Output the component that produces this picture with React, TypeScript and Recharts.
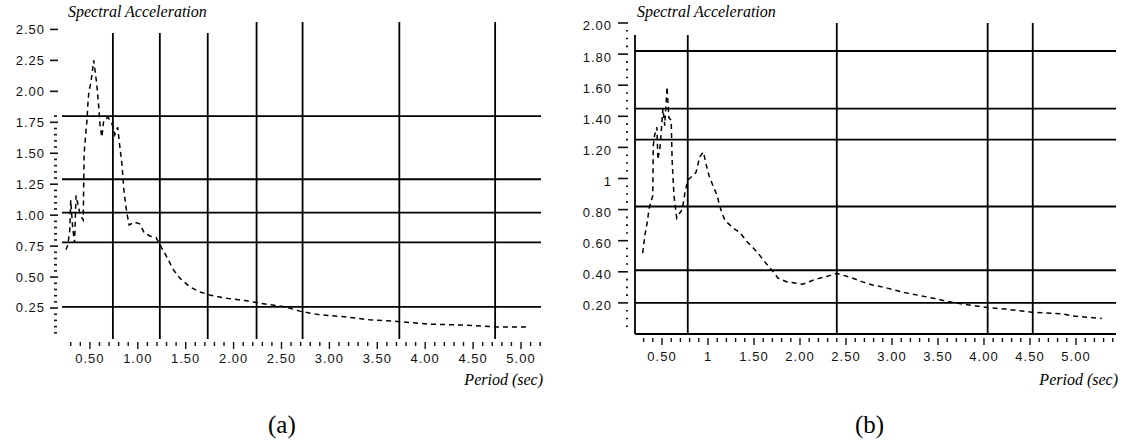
import React from 'react';
import { LineChart, Line, XAxis, YAxis, ReferenceLine } from 'recharts';

// panel (a): period (sec) vs spectral acceleration
const periodA = [0.25, 0.27, 0.29, 0.3, 0.32, 0.34, 0.355, 0.4, 0.43, 0.44, 0.46, 0.47, 0.48, 0.49, 0.51, 0.54, 0.57, 0.595, 0.605, 0.625, 0.645, 0.69, 0.73, 0.76, 0.79, 0.81, 0.835, 0.855, 0.885, 0.91, 0.96, 1.02, 1.065, 1.13, 1.19, 1.25, 1.305, 1.37, 1.44, 1.545, 1.65, 1.75, 1.91, 2.12, 2.35, 2.54, 2.69, 2.9, 3.16, 3.42, 3.74, 4.05, 4.39, 4.75, 5.06];
const accelA = [0.72, 0.76, 0.88, 1.12, 0.9, 0.78, 1.16, 1.0, 0.96, 1.5, 1.69, 1.77, 1.91, 2.0, 2.07, 2.25, 2.07, 1.85, 1.73, 1.63, 1.77, 1.79, 1.74, 1.65, 1.71, 1.57, 1.41, 1.2, 1.02, 0.92, 0.945, 0.93, 0.86, 0.83, 0.82, 0.735, 0.66, 0.56, 0.49, 0.42, 0.38, 0.355, 0.33, 0.31, 0.28, 0.26, 0.225, 0.195, 0.18, 0.155, 0.14, 0.12, 0.113, 0.097, 0.097];

// panel (b)
const periodB = [0.29, 0.315, 0.34, 0.36, 0.38, 0.4, 0.405, 0.42, 0.445, 0.455, 0.48, 0.51, 0.53, 0.555, 0.575, 0.6, 0.61, 0.63, 0.66, 0.695, 0.72, 0.75, 0.78, 0.8, 0.87, 0.91, 0.95, 0.98, 1.01, 1.05, 1.1, 1.12, 1.15, 1.185, 1.24, 1.29, 1.35, 1.43, 1.53, 1.65, 1.71, 1.76, 1.86, 2.03, 2.16, 2.29, 2.4, 2.57, 2.68, 2.79, 2.95, 3.11, 3.28, 3.45, 3.6, 3.79, 4.04, 4.23, 4.52, 4.85, 4.97, 5.28];
const accelB = [0.52, 0.64, 0.72, 0.81, 0.85, 0.89, 1.21, 1.28, 1.33, 1.12, 1.21, 1.45, 1.34, 1.59, 1.39, 1.375, 1.12, 0.89, 0.745, 0.78, 0.8, 0.91, 0.99, 1.0, 1.04, 1.14, 1.17, 1.09, 1.02, 0.96, 0.89, 0.84, 0.78, 0.73, 0.7, 0.675, 0.65, 0.59, 0.53, 0.44, 0.4, 0.36, 0.335, 0.32, 0.35, 0.37, 0.39, 0.36, 0.335, 0.315, 0.295, 0.27, 0.25, 0.23, 0.21, 0.19, 0.17, 0.16, 0.14, 0.13, 0.115, 0.1];

// tick labels
const xTicks = [0.5, 1, 1.5, 2, 2.5, 3, 3.5, 4, 4.5, 5];
const xLabelsA = ['0.50', '1.00', '1.50', '2.00', '2.50', '3.00', '3.50', '4.00', '4.50', '5.00'];
const xLabelsB = ['0.50', '1', '1.50', '2.00', '2.50', '3.00', '3.50', '4.00', '4.50', '5.00'];
const yTicksA = [0.25, 0.5, 0.75, 1, 1.25, 1.5, 1.75, 2, 2.25, 2.5];
const yLabelsA = ['0.25', '0.50', '0.75', '1.00', '1.25', '1.50', '1.75', '2.00', '2.25', '2.50'];
const yTicksB = [0.2, 0.4, 0.6, 0.8, 1, 1.2, 1.4, 1.6, 1.8, 2];
const yLabelsB = ['0.20', '0.40', '0.60', '0.80', '1', '1.20', '1.40', '1.60', '1.80', '2.00'];

// overlaid grid lines
const gridXA = [0.74, 1.23, 1.73, 2.24, 2.72, 3.73, 4.73];
const gridYA = [1.8, 1.29, 1.02, 0.78, 0.26];
const gridXB = [0.78, 2.4, 4.04, 4.53];
const gridYB = [1.82, 1.45, 1.25, 0.82, 0.41, 0.2];

const INK = '#111';
const TICK_FONT = '"Liberation Sans", Arial, sans-serif';
const SERIF = '"Liberation Serif", "Times New Roman", serif';

const key = (v: number) => Number(v).toFixed(2);

function steps(from: number, count: number, step: number) {
  return Array.from({ length: count }, (_, i) => Math.round((from + i * step) * 100) / 100);
}

function mergeTicks(major: number[], minor: number[]) {
  const m = new Set(major.map(key));
  return [...major, ...minor.filter((v) => !m.has(key(v)))].sort((a, b) => a - b);
}

const makeXTick = (labels: Map<string, string>, gap: number, labelY: number) => (props: any) => {
  const { x, y, payload } = props;
  const label = labels.get(key(payload.value));
  return (
    <g>
      <line x1={x} x2={x} y1={y + gap} y2={y + gap + (label ? 7 : 4)} stroke={INK} strokeWidth={1.4} />
      {label && (
        <text x={x} y={y + labelY} textAnchor="middle" fontSize={13} letterSpacing={1} fontFamily={TICK_FONT} fill={INK}>
          {label}
        </text>
      )}
    </g>
  );
};

const makeYTick = (labels: Map<string, string>, o: { labelX: number; dy: number; major: [number, number]; minor: [number, number] }) => (props: any) => {
  const { x, y, payload } = props;
  const label = labels.get(key(payload.value));
  const [a, b] = label ? o.major : o.minor;
  return (
    <g>
      <line x1={x - a} x2={x - b} y1={y} y2={y} stroke={INK} strokeWidth={1.6} />
      {label && (
        <text x={x - o.labelX} y={y + o.dy} textAnchor="end" dominantBaseline="middle" fontSize={13} letterSpacing={1} fontFamily={TICK_FONT} fill={INK}>
          {label}
        </text>
      )}
    </g>
  );
};

type PanelProps = {
  left: number;
  width: number;
  period: number[];
  accel: number[];
  xDomain: [number, number];
  yDomain: [number, number];
  xLabels: string[];
  yTicks: number[];
  yLabels: string[];
  minorX: number[];
  minorY: number[];
  gridX: number[];
  gridY: number[];
  margin: { top: number; right: number; bottom: number; left: number };
  yWidth: number;
  xHeight: number;
  showAxes: boolean;
  xTickGap: number;
  xLabelY: number;
  yTickOpts: { labelX: number; dy: number; major: [number, number]; minor: [number, number] };
};

function Panel(p: PanelProps) {
  const data = p.period.map((t, i) => ({ t, sa: p.accel[i] }));
  const xMap = new Map(xTicks.map((v, i) => [key(v), p.xLabels[i]]));
  const yMap = new Map(p.yTicks.map((v, i) => [key(v), p.yLabels[i]]));
  const axisLine = p.showAxes ? { stroke: '#000', strokeWidth: 1.8 } : false;
  return (
    <div style={{ position: 'absolute', left: p.left, top: 0 }}>
      <LineChart width={p.width} height={380} data={data} margin={p.margin}>
        <XAxis
          dataKey="t"
          type="number"
          domain={p.xDomain}
          ticks={mergeTicks(xTicks, p.minorX)}
          interval={0}
          height={p.xHeight}
          axisLine={axisLine}
          tickLine={false}
          tickSize={0}
          tickMargin={0}
          tick={makeXTick(xMap, p.xTickGap, p.xLabelY)}
          allowDataOverflow
        />
        <YAxis
          type="number"
          domain={p.yDomain}
          ticks={mergeTicks(p.yTicks, p.minorY)}
          interval={0}
          width={p.yWidth}
          axisLine={axisLine}
          tickLine={false}
          tickSize={0}
          tickMargin={0}
          tick={makeYTick(yMap, p.yTickOpts)}
          allowDataOverflow
        />
        {p.gridY.map((v) => (
          <ReferenceLine key={`h${v}`} y={v} stroke="#000" strokeWidth={1.8} />
        ))}
        {p.gridX.map((v) => (
          <ReferenceLine key={`v${v}`} x={v} stroke="#000" strokeWidth={1.8} />
        ))}
        <Line
          type="linear"
          dataKey="sa"
          stroke="#000"
          strokeWidth={1.5}
          strokeDasharray="5 4"
          dot={false}
          isAnimationActive={false}
        />
      </LineChart>
    </div>
  );
}

const titleStyle: React.CSSProperties = {
  position: 'absolute',
  background: '#fff',
  fontFamily: SERIF,
  fontStyle: 'italic',
  fontSize: 16,
  lineHeight: '18px',
  color: '#000',
  whiteSpace: 'nowrap',
};

const captionStyle: React.CSSProperties = {
  position: 'absolute',
  fontFamily: SERIF,
  fontSize: 25,
  lineHeight: '28px',
  color: '#000',
};

export default function App() {
  return (
    <div style={{ position: 'fixed', left: 0, top: 0, width: 1125, height: 443, background: '#fff', overflow: 'hidden' }}>
      <Panel
        left={0}
        width={560}
        period={periodA}
        accel={accelA}
        xDomain={[0.2088, 5.2088]}
        yDomain={[0, 2.56]}
        xLabels={xLabelsA}
        yTicks={yTicksA}
        yLabels={yLabelsA}
        minorX={steps(0.3, 50, 0.1)}
        minorY={steps(0.05, 36, 0.05)}
        gridX={gridXA}
        gridY={gridYA}
        margin={{ top: 22, right: 19, bottom: 0, left: 0 }}
        yWidth={62}
        xHeight={41}
        showAxes={false}
        xTickGap={3}
        xLabelY={24}
        yTickOpts={{ labelX: 17, dy: 1, major: [12, 4], minor: [8, 5] }}
      />
      <Panel
        left={562}
        width={563}
        period={periodB}
        accel={accelB}
        xDomain={[0.2065, 5.435]}
        yDomain={[0, 2]}
        xLabels={xLabelsB}
        yTicks={yTicksB}
        yLabels={yLabelsB}
        minorX={steps(0.3, 52, 0.1)}
        minorY={steps(0.05, 39, 0.05)}
        gridX={gridXB}
        gridY={gridYB}
        margin={{ top: 23, right: 9, bottom: 0, left: 0 }}
        yWidth={73}
        xHeight={46}
        showAxes={true}
        xTickGap={4}
        xLabelY={27}
        yTickOpts={{ labelX: 23, dy: 4, major: [17, 7], minor: [9, 7] }}
      />

      <div style={{ ...titleStyle, left: 63, top: 0, width: 146, height: 33, paddingLeft: 5, paddingTop: 3, boxSizing: 'border-box' }}>
        Spectral Acceleration
      </div>
      <div style={{ ...titleStyle, left: 632, top: 0, width: 148, height: 35, paddingLeft: 5, paddingTop: 3, boxSizing: 'border-box' }}>
        Spectral Acceleration
      </div>

      <div style={{ ...titleStyle, background: 'transparent', right: 1125 - 543, top: 371 }}>Period (sec)</div>
      <div style={{ ...titleStyle, background: 'transparent', right: 7, top: 371 }}>Period (sec)</div>

      <div style={{ ...captionStyle, left: 268, top: 411 }}>(a)</div>
      <div style={{ ...captionStyle, left: 855, top: 411 }}>(b)</div>
    </div>
  );
}
